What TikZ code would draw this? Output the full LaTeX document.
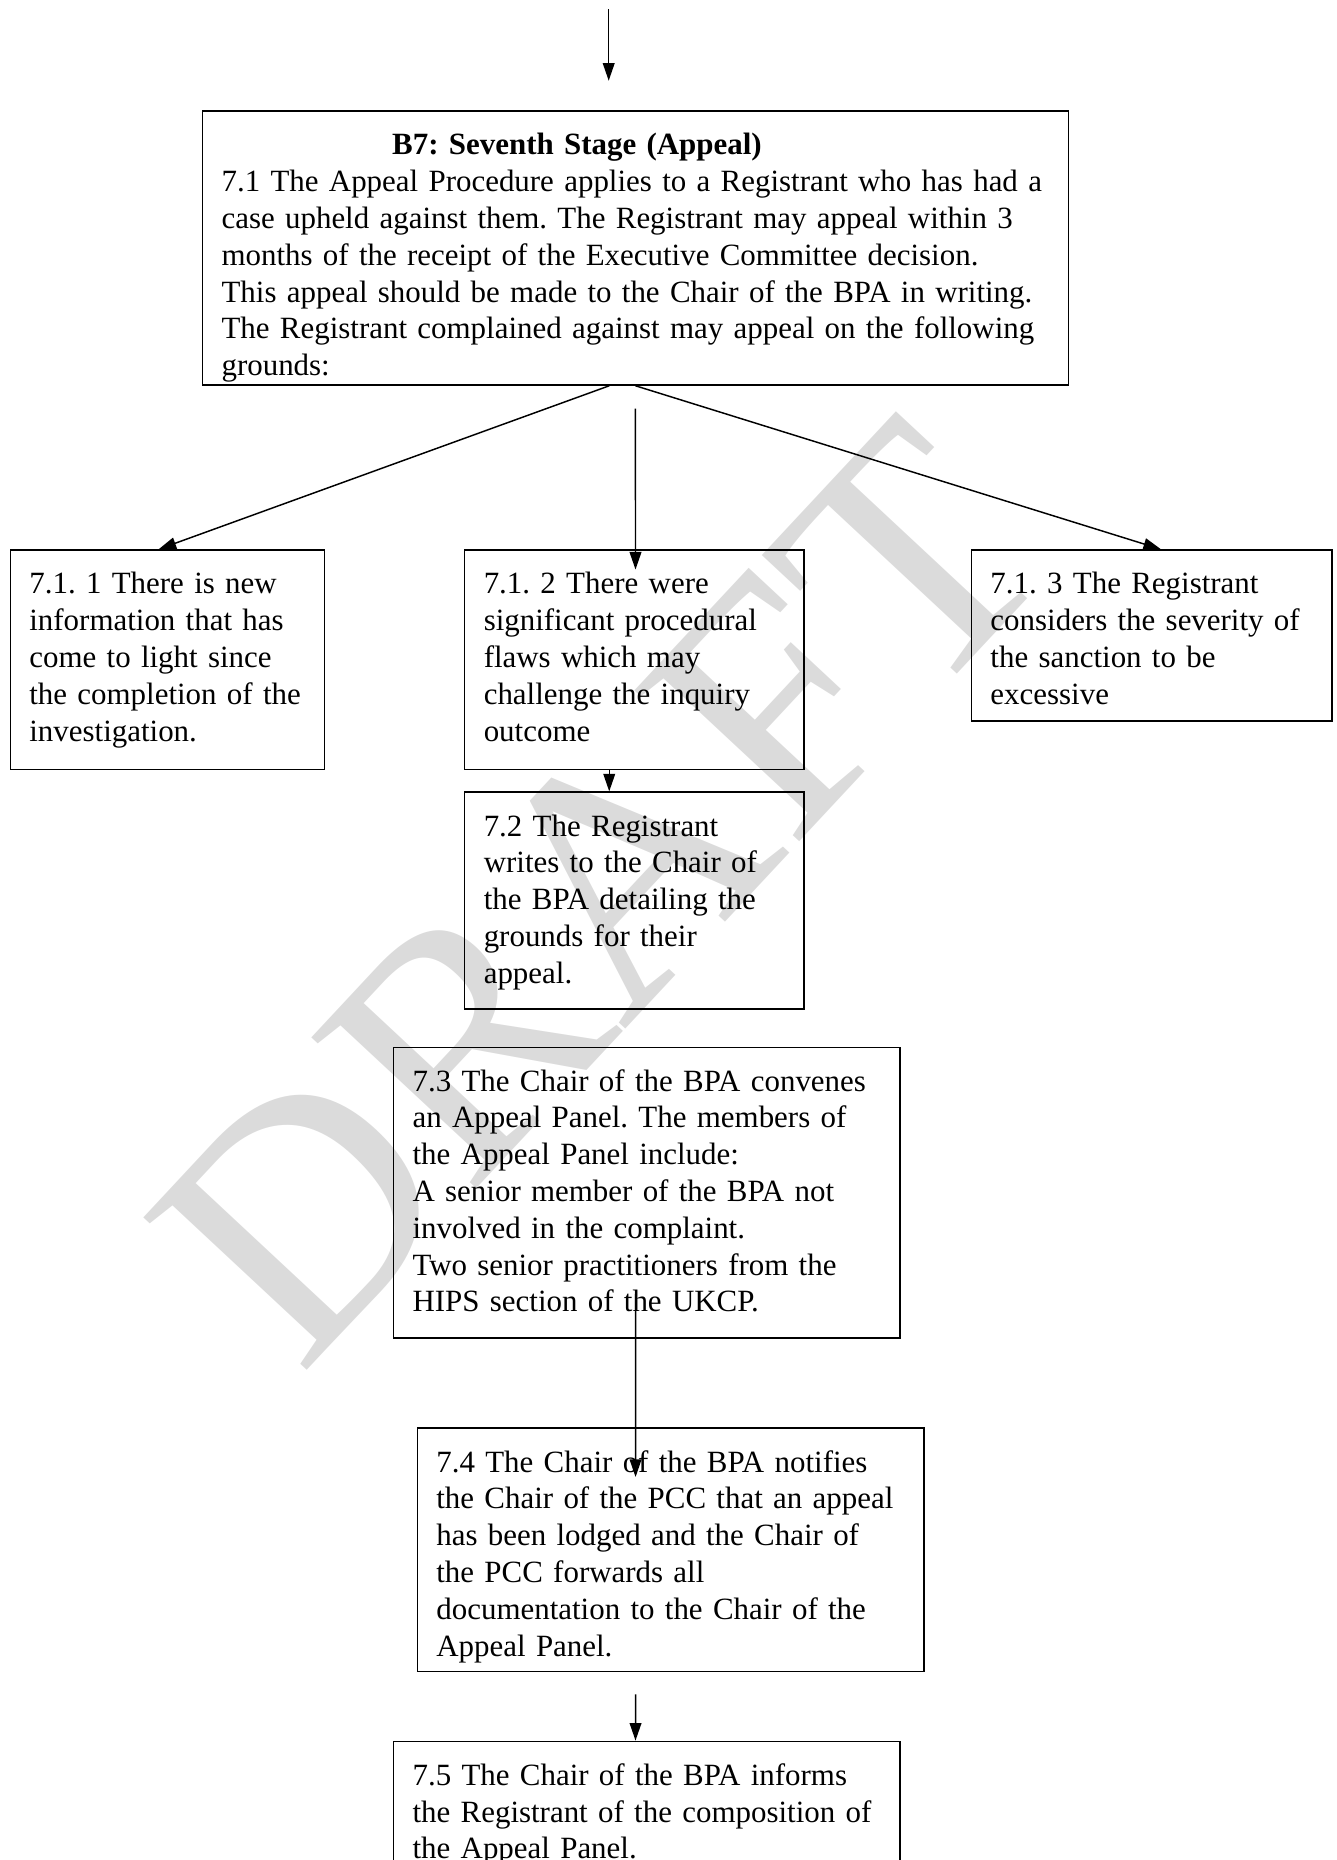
\documentclass[tikz,border=0pt]{standalone}
\usepackage{fontspec}
\setmainfont{Liberation Serif}
\usetikzlibrary{arrows.meta}
\tikzset{every edge/.style={ % connectors between the stages
			draw,
			-{Triangle[width=4.4pt,length=6.6pt]},
			line width=0.55pt}}
\tikzset{stepbox/.style={draw, line width=0.5pt, anchor=north west, align=left,
			inner xsep=0pt, inner ysep=0pt, text height=16.5pt,
			execute at begin node={\leftskip=7.2pt\relax},
			font=\fontsize{11.6}{13.8}\selectfont\frenchspacing}}

\begin{document}
\begin{tikzpicture}[x=0.375pt, y=-0.375pt]
	\path[use as bounding box, clip] (0,0) rectangle (1336,1860);
	% watermark
	\node[rotate=47, text=black!14, font=\fontsize{128}{128}\selectfont] (wm) at (600,892) {DRAFT};

	\node[stepbox, text width=324.8pt, text depth=86.3pt] (top) at (201.7,110.3) {\hspace*{64pt}\textbf{B7: Seventh Stage (Appeal)}\\
		7.1 The Appeal Procedure applies to a Registrant who has had a\\
		case upheld against them. The Registrant may appeal within 3\\
		months of the receipt of the Executive Committee decision.\\
		This appeal should be made to the Chair of the BPA in writing.\\
		The Registrant complained against may appeal on the following\\
		grounds:};
	\node[stepbox, text width=117.9pt, text depth=65.85pt] (g1) at (9.5,549.3) {7.1. 1 There is new\\information that has\\come to light since\\the completion of the\\investigation.};
	\node[stepbox, text width=127.3pt, text depth=65.85pt] (g2) at (463.9,549.3) {7.1. 2 There were\\significant procedural\\flaws which may\\challenge the inquiry\\outcome};
	\node[stepbox, text width=135.3pt, text depth=47.6pt] (g3) at (970.6,549.3) {7.1. 3 The Registrant\\considers the severity of\\the sanction to be\\excessive};
	\node[stepbox, text width=127.3pt, text depth=64.9pt] (s2) at (463.9,791.4) {7.2 The Registrant\\writes to the Chair of\\the BPA detailing the\\grounds for their\\appeal.};
	\node[stepbox, text width=190pt, text depth=92.5pt] (s3) at (392.7,1046.5) {7.3 The Chair of the BPA convenes\\an Appeal Panel. The members of\\the Appeal Panel include:\\A senior member of the BPA not\\involved in the complaint.\\Two senior practitioners from the\\HIPS section of the UKCP.};
	\node[stepbox, text width=190pt, text depth=74.7pt] (s4) at (416.5,1427.4) {7.4 The Chair of the BPA notifies\\the Chair of the PCC that an appeal\\has been lodged and the Chair of\\the PCC forwards all\\documentation to the Chair of the\\Appeal Panel.};
	\node[stepbox, text width=190pt, text depth=43.3pt] (s5) at (392.7,1740.6) {7.5 The Chair of the BPA informs\\the Registrant of the composition of\\the Appeal Panel.};

	\coordinate (in) at (608.7,9.5);
	\coordinate (inEnd) at (608.7,80.7);

	\draw (in) edge (inEnd)
		([xshift=-9.8pt]top.south) edge ([xshift=-3.3pt]g1.north)
		(top.south) edge ([xshift=3.5pt]g3.north)
		([yshift=-8.6pt]top.south) edge ([xshift=0.45pt,yshift=-7.6pt]g2.north)
		([xshift=-9.4pt]g2.south) edge ([xshift=-9.4pt]s2.north)
		([xshift=-4.2pt,yshift=16.6pt]s3.south) edge ([xshift=-13.1pt,yshift=-18.6pt]s4.north)
		([xshift=-13.1pt,yshift=-8.4pt]s4.south) edge ([xshift=-4.2pt]s5.north);
\end{tikzpicture}
\end{document}
